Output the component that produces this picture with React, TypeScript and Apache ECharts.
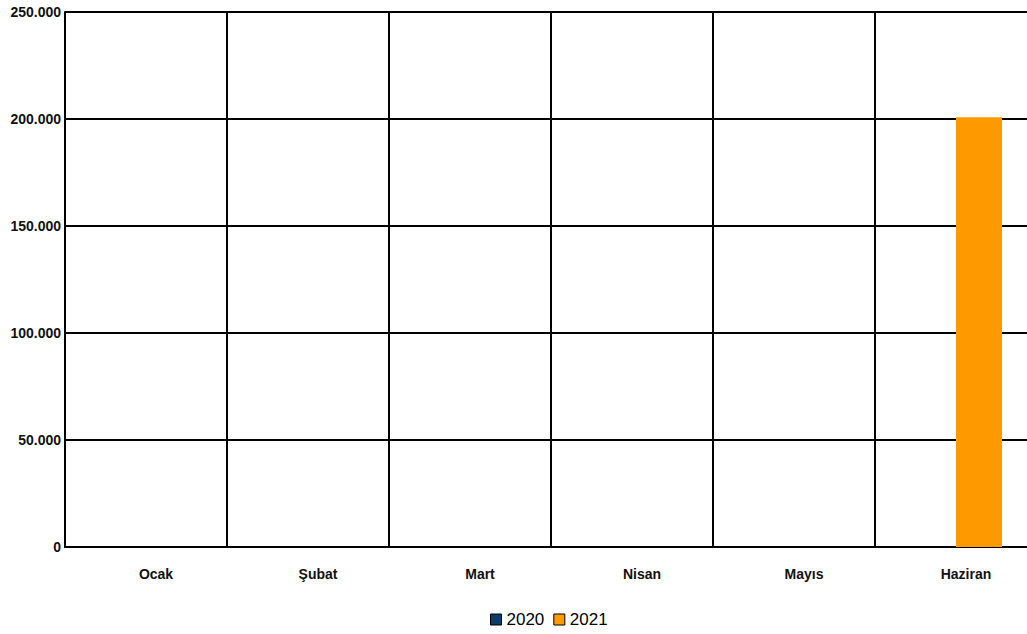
import React, { useEffect, useRef } from "react";
import * as echarts from "echarts";

const categories = ["Ocak", "Şubat", "Mart", "Nisan", "Mayıs", "Haziran"];
const series2020 = [0, 0, 0, 0, 0, 0];
const series2021 = [0, 0, 0, 0, 0, 200800];
const seriesNames = ["2020", "2021"];
const colors = ["#0B3A6C", "#FF9900"];

const FONT = "'Liberation Sans', Arial, sans-serif";

function fmt(v: number): string {
  return String(Math.round(v)).replace(/\B(?=(\d{3})+(?!\d))/g, ".");
}

export default function App() {
  const ref = useRef<HTMLDivElement>(null);
  useEffect(() => {
    if (!ref.current) return;
    const chart = echarts.init(ref.current, undefined, { renderer: "svg" });
    chart.setOption({
      animation: false,
      color: colors,
      textStyle: { fontFamily: FONT },
      legend: {
        data: seriesNames,
        left: 490,
        top: 611,
        padding: 0,
        itemWidth: 11,
        itemHeight: 11,
        itemGap: 9,
        icon: "rect",
        itemStyle: { borderColor: "#000", borderWidth: 1 },
        textStyle: { fontFamily: FONT, fontSize: 17, color: "#000" },
      },
      grid: { left: 65, right: 11, top: 12, bottom: 87, containLabel: false, outerBoundsMode: "none" },
      xAxis: {
        type: "category",
        data: categories,
        axisLine: { show: true, lineStyle: { color: "#000", width: 2 } },
        axisTick: { show: false },
        axisLabel: { color: "#111", fontWeight: "bold", fontSize: 14, fontFamily: FONT, margin: 20, padding: [0, 0, 0, 20] },
        splitLine: { show: true, lineStyle: { color: "#000", width: 2 } },
      },
      yAxis: {
        type: "value",
        min: 0,
        max: 250000,
        interval: 50000,
        axisLine: { show: true, lineStyle: { color: "#000", width: 2 } },
        axisTick: { show: false },
        axisLabel: { color: "#111", fontWeight: "bold", fontSize: 14, fontFamily: FONT, margin: 4, formatter: (v: number) => fmt(v) },
        splitLine: { show: true, lineStyle: { color: "#000", width: 2 } },
      },
      series: [
        { name: seriesNames[0], type: "bar", data: series2020, barWidth: 46, barGap: "0%" },
        { name: seriesNames[1], type: "bar", data: series2021, barWidth: 46, barGap: "0%" },
      ],
    });
    return () => chart.dispose();
  }, []);
  return (
    <div style={{ position: "absolute", left: 0, top: 0, width: 1027, height: 634, overflow: "hidden" }}>
      <div ref={ref} style={{ width: 1048, height: 634 }} />
    </div>
  );
}
